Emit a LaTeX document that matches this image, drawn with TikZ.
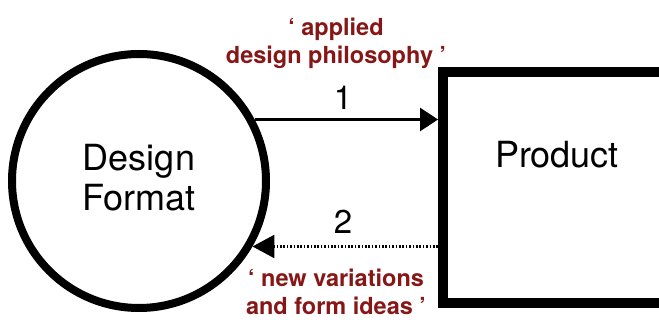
\documentclass[tikz,border=0pt]{standalone}
\usepackage{fontspec}
\setmainfont{TeX Gyre Heros}
\usetikzlibrary{arrows.meta}
\definecolor{quotered}{RGB}{135,22,22}
\tikzset{
  bigtext/.style={font=\fontsize{36}{40}\selectfont, align=center, inner sep=0pt},
  numtext/.style={font=\fontsize{33}{36}\selectfont, inner sep=0pt},
  redtext/.style={font=\fontsize{23.5}{28}\selectfont\bfseries, text=quotered, align=center, inner sep=0pt},
  flow/.style={line width=3pt, -{Triangle[length=18pt,width=23pt]}},
  backflow/.style={line width=2.5pt, dash pattern=on 1.6pt off 1.8pt, -{Triangle[length=22pt,width=23pt]}}
}
\begin{document}
\begin{tikzpicture}[x=1pt,y=-1pt]
\useasboundingbox (0,0) rectangle (659,320);
\node[draw, circle, line width=8pt, minimum size=254pt, inner sep=0pt] (df) at (139,181) {};
\node[bigtext] (dflabel) at (139,178) {Design\\Format};
\node[draw, rectangle, line width=10pt, minimum width=262pt, minimum height=231pt, inner sep=0pt] (prod) at (574,187.5) {};
\node[bigtext] (prodlabel) at (557,155) {Product};
\draw[flow] (df.28) -- (df.28 -| prod.west);
\draw[backflow] (prod.west |- df.-30) -- (df.-30);
\node[numtext] (one) at (343,98) {1};
\node[numtext] (two) at (343,222) {2};
\node[redtext] (top) at (336,43) {‘ applied\\design philosophy ’};
\node[redtext] (bot) at (336,292) {‘ new variations\\and form ideas ’};
\end{tikzpicture}
\end{document}
